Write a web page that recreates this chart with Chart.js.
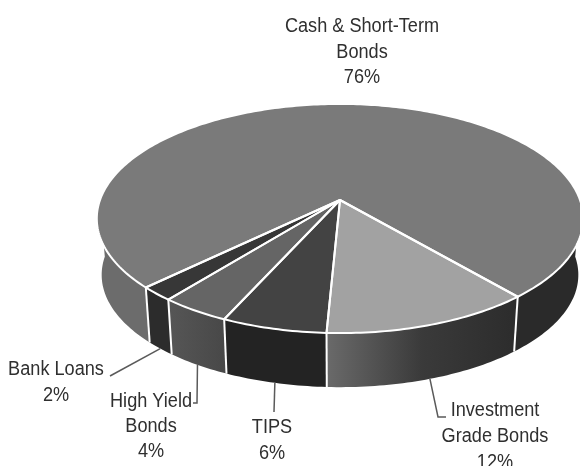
<!DOCTYPE html>
<html>
<head>
<meta charset="utf-8">
<style>
  html, body { margin: 0; padding: 0; background: #fff; }
  canvas { display: block; }
</style>
<script src="https://cdn.jsdelivr.net/npm/chart.js@4/dist/chart.umd.js"></script>
</head>
<body>
<canvas id="allocation" width="580" height="466"></canvas>
<script>
// Portfolio allocation, largest holding last so the slices run clockwise from the lower right.
const categories = ['Investment Grade Bonds', 'TIPS', 'High Yield Bonds', 'Bank Loans', 'Cash & Short-Term Bonds'];
const shares = [12, 6, 4, 2, 76];
const labelLines = [['Investment', 'Grade Bonds'], ['TIPS'], ['High Yield', 'Bonds'], ['Bank Loans'], ['Cash & Short-Term', 'Bonds']];
const faceColors = ['#a2a2a2', '#434343', '#656565', '#373737', '#7a7a7a'];

// Front wall shading per slice, left to right; a slice wrapping behind the disc uses one colour per visible side.
const wallColors = [['#6a6a6a', '#3a3a3a', '#2c2c2c'], ['#232323', '#232323'], ['#565656', '#484848'], ['#2c2c2c', '#2c2c2c'], ['#6c6c6c', '#2a2a2a']];

// Label placement: centre x, first baseline, line gap, and the leader's route after leaving the wall.
const labelPlacement = [
  { x: 495, y: 416, gap: 26, leader: [[438, 417], [446, 417]] },
  { x: 272, y: 433, gap: 26, leader: [[274, 412]] },
  { x: 151, y: 407, gap: 25, leader: [[197, 403], [193, 403]] },
  { x: 56, y: 375, gap: 26, leader: [[110, 376]] },
  { x: 362, y: 32, gap: 25.5, leader: null }
];

const DEG = Math.PI / 180;
const TILT = 0.1616;        // foreshortening of the disc towards the viewer
const SQUASH = 0.465;       // ratio of depth axis to width axis on screen
const WALL_DROP = 56.7;     // height of the cylinder wall
const WALL_SCALE = 0.98;    // lower rim sits slightly further from the eye
const TEXT_WIDTH = 0.93;    // the labels are set slightly condensed

// Projects a point on the disc rim, at a canvas angle, into screen space.
function rim(arc, angle, lower) {
  const X = Math.cos(angle), Y = Math.sin(angle);
  const w = 1 - TILT * Y;
  const s = lower ? WALL_SCALE : 1;
  return {
    x: arc.x + s * arc.outerRadius * X / w,
    y: arc.y + s * arc.outerRadius * SQUASH * Y / w + (lower ? WALL_DROP : 0)
  };
}

function rimPath(ctx, arc, from, to, lower, first) {
  const steps = Math.max(2, Math.ceil(Math.abs(to - from) / DEG));
  for (let i = 0; i <= steps; i++) {
    const p = rim(arc, from + (to - from) * i / steps, lower);
    if (i === 0 && first) ctx.moveTo(p.x, p.y); else ctx.lineTo(p.x, p.y);
  }
}

// Portion of a slice's angular range that faces the viewer.
function frontRanges(arc) {
  const out = [];
  for (const k of [0, 1]) {
    const lo = Math.max(arc.startAngle, k * 2 * Math.PI);
    const hi = Math.min(arc.endAngle, Math.PI + k * 2 * Math.PI);
    if (hi > lo) out.push([lo, hi]);
  }
  return out;
}

function wallFill(ctx, arc, i, lo, hi, ranges, index) {
  const colors = wallColors[i];
  if (ranges > 1) return colors[index === 0 ? 0 : 1];
  const a = rim(arc, lo, false), b = rim(arc, hi, false);
  const g = ctx.createLinearGradient(Math.min(a.x, b.x), 0, Math.max(a.x, b.x), 0);
  colors.forEach((c, n) => g.addColorStop(n / (colors.length - 1), c));
  return g;
}

const extrudedPie = {
  id: 'extrudedPie',
  // The library supplies each slice's angles; they are painted here on a tilted cylinder.
  beforeDatasetDraw(chart) {
    const ctx = chart.ctx;
    const arcs = chart.getDatasetMeta(0).data;
    ctx.save();
    ctx.lineJoin = 'round';

    arcs.forEach((arc, i) => {
      const ranges = frontRanges(arc);
      ranges.forEach(([lo, hi], index) => {
        ctx.beginPath();
        rimPath(ctx, arc, lo, hi, false, true);
        rimPath(ctx, arc, hi, lo, true, false);
        ctx.closePath();
        ctx.fillStyle = wallFill(ctx, arc, i, lo, hi, ranges.length, index);
        ctx.fill();
      });
    });

    // Vertical seams between neighbouring walls.
    ctx.strokeStyle = '#fff';
    ctx.lineWidth = 2;
    arcs.forEach(arc => {
      if (Math.sin(arc.startAngle) > 0) {
        const a = rim(arc, arc.startAngle, false), b = rim(arc, arc.startAngle, true);
        ctx.beginPath(); ctx.moveTo(a.x, a.y); ctx.lineTo(b.x, b.y); ctx.stroke();
      }
    });

    arcs.forEach((arc, i) => {
      ctx.beginPath();
      ctx.moveTo(arc.x, arc.y);
      rimPath(ctx, arc, arc.startAngle, arc.endAngle, false, false);
      ctx.closePath();
      ctx.fillStyle = faceColors[i];
      ctx.fill();
    });
    arcs.forEach(arc => {
      ctx.beginPath();
      ctx.moveTo(arc.x, arc.y);
      rimPath(ctx, arc, arc.startAngle, arc.endAngle, false, false);
      ctx.closePath();
      ctx.stroke();
    });
    ctx.restore();
    return false;
  },
  afterDraw(chart) {
    const ctx = chart.ctx;
    const arcs = chart.getDatasetMeta(0).data;
    ctx.save();
    ctx.strokeStyle = '#5a5a5a';
    ctx.lineWidth = 1.5;
    arcs.forEach((arc, i) => {
      const place = labelPlacement[i];
      if (place.leader) {
        const s = rim(arc, (arc.startAngle + arc.endAngle) / 2, true);
        ctx.beginPath();
        ctx.moveTo(s.x, s.y);
        place.leader.forEach(([x, y]) => ctx.lineTo(x, y));
        ctx.stroke();
      }
      ctx.fillStyle = '#2f2f2f';
      ctx.font = '19.5px "Liberation Sans", Arial, sans-serif';
      ctx.textAlign = 'center';
      ctx.textBaseline = 'alphabetic';
      const lines = [...labelLines[i], shares[i] + '%'];
      lines.forEach((line, n) => {
        ctx.save();
        ctx.translate(place.x, place.y + n * place.gap);
        ctx.scale(TEXT_WIDTH, 1);
        ctx.fillText(line, 0, 0);
        ctx.restore();
      });
    });
    ctx.restore();
  }
};

new Chart(document.getElementById('allocation'), {
  type: 'pie',
  data: {
    labels: categories,
    datasets: [{ data: shares, backgroundColor: faceColors, borderWidth: 0 }]
  },
  options: {
    responsive: false,
    animation: false,
    rotation: 139.5,
    radius: 240,
    layout: { padding: { left: 100, right: 0, top: 0, bottom: 66 } },
    plugins: { legend: { display: false }, tooltip: { enabled: false } }
  },
  plugins: [extrudedPie]
});
</script>
</body>
</html>
